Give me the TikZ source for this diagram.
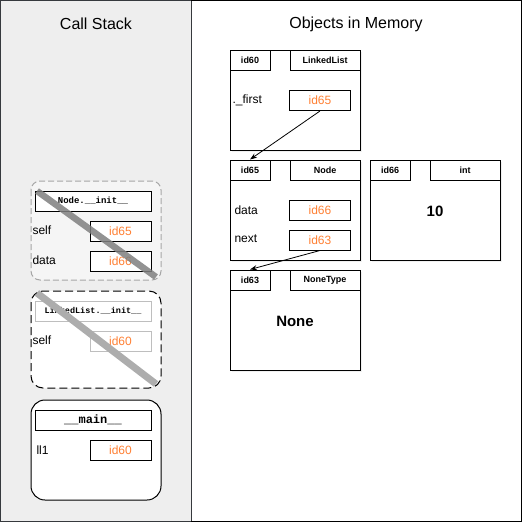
\documentclass[tikz,border=0pt]{standalone}
\usepackage{fontspec}
\setmainfont{Liberation Sans}
\newfontfamily\monob{Liberation Mono}[BoldFont={Liberation Mono Bold}]
\usetikzlibrary{arrows.meta}
\definecolor{idorange}{RGB}{255,128,51}
\definecolor{panelgray}{RGB}{238,238,238}
\definecolor{paneledge}{RGB}{54,57,61}
\definecolor{framefill}{RGB}{245,245,245}
\definecolor{lightedge}{RGB}{190,190,190}
\tikzset{
  title/.style={font=\fontsize{16}{16}\selectfont},
  varlab/.style={font=\fontsize{12}{12}\selectfont, anchor=west, inner sep=0},
  idbox/.style={draw, minimum width=61, minimum height=20, inner sep=0, text=idorange, font=\fontsize{12}{12}\selectfont},
  hdrbox/.style={draw, minimum width=116, minimum height=20, inner sep=0},
  objbox/.style={draw, fill=white, minimum width=130, minimum height=100, inner sep=0},
  tagl/.style={draw, fill=white, minimum width=40, minimum height=20, inner sep=0, font=\bfseries\fontsize{9}{9}\selectfont},
  tagr/.style={draw, fill=white, minimum width=70, minimum height=20, inner sep=0, font=\bfseries\fontsize{9}{9}\selectfont},
  objval/.style={font=\bfseries\fontsize{15}{15}\selectfont},
  ptr/.style={-{Stealth[length=7pt,width=5pt]}, line width=0.8pt},
  strike/.style={line width=6.5pt},
  shadowbox/.style={fill=black!6, draw=none}
}
\begin{document}
\begin{tikzpicture}[x=1pt,y=-1pt,line width=1pt]
\useasboundingbox (0,0) rectangle (522,522);
% panels
\fill[white] (0,0) rectangle (522,522);
\draw[fill=panelgray, draw=paneledge] (0.5,0.5) rectangle (191,521.5);
\draw (191,0.5) -- (521.5,0.5) -- (521.5,521.5) -- (191,521.5);
\node[title] (cstitle) at (96,24) {Call Stack};
\node[title] (memtitle) at (356,24) {Objects in Memory};

% frame 1: Node.__init__
\draw[fill=framefill, draw=black!35, dash pattern=on 6pt off 3pt, rounded corners=9pt] (31,181) rectangle (161,280);
\node[hdrbox, fill=white] (f1h) at (93,201) {\monob\bfseries\fontsize{9}{9}\selectfont Node.\_\_init\_\_};
\node[varlab] (f1self) at (32,230) {self};
\node[idbox, fill=white] (f1id65) at (120.5,231) {id65};
\node[varlab] (f1data) at (32,260) {data};
\node[idbox, fill=white] (f1id66) at (120.5,261) {id66};
\draw[strike, draw=black!50, opacity=0.85] (37,191) -- (156,277);

% frame 2: LinkedList.__init__
\draw[fill=white, draw=black, dash pattern=on 8pt off 4pt, rounded corners=12pt] (31,291) rectangle (161,388);
\node[hdrbox, draw=lightedge] (f2h) at (93,311) {\monob\bfseries\fontsize{8.5}{8.5}\selectfont LinkedList.\_\_init\_\_};
\node[varlab] (f2self) at (32,340) {self};
\node[idbox, draw=lightedge] (f2id60) at (120.5,341) {id60};
\draw[strike, draw=black!32, line width=7pt] (37,293) -- (156,384);

% frame 3: __main__
\draw[fill=white, draw=black, rounded corners=14pt] (31,400) rectangle (161,500);
\node[hdrbox] (f3h) at (93,420) {\monob\bfseries\fontsize{12}{12}\selectfont \_\_main\_\_};
\node[varlab] (f3ll1) at (36,450) {ll1};
\node[idbox] (f3id60) at (120.5,450) {id60};

% object id60 LinkedList
\fill[shadowbox] (232,52) rectangle (362,152);
\node[objbox] (o60) at (295,100) {};
\node[tagl] (o60id) at (250,60) {id60};
\node[tagr] (o60t) at (325,60) {LinkedList};
\node[varlab] (o60first) at (232,100) {.\_first};
\node[idbox] (o60f) at (320,100.5) {id65};

% object id65 Node
\fill[shadowbox] (232,162) rectangle (362,262);
\node[objbox] (o65) at (295,210) {};
\node[tagl] (o65id) at (250,170) {id65};
\node[tagr] (o65t) at (325,170) {Node};
\node[varlab] (o65data) at (234,210) {data};
\node[idbox] (o65d) at (320,210) {id66};
\node[varlab] (o65next) at (234,239) {next};
\node[idbox] (o65n) at (320,240) {id63};

% object id66 int
\fill[shadowbox] (372,162) rectangle (502,262);
\node[objbox] (o66) at (435,210) {};
\node[tagl] (o66id) at (390,170) {id66};
\node[tagr] (o66t) at (465,170) {int};
\node[objval] (o66v) at (435,211) {10};

% object id63 NoneType
\fill[shadowbox] (232,272) rectangle (362,372);
\node[objbox] (o63) at (295,320) {};
\node[tagl] (o63id) at (250,280) {id63};
\node[tagr] (o63t) at (325,280) {NoneType};
\node[objval] (o63v) at (295,321) {None};

% pointers
\draw[ptr] (o60f.south) -- (o65id.north);
\draw[ptr] (o65n.south) -- (o63id.north);
\end{tikzpicture}
\end{document}
